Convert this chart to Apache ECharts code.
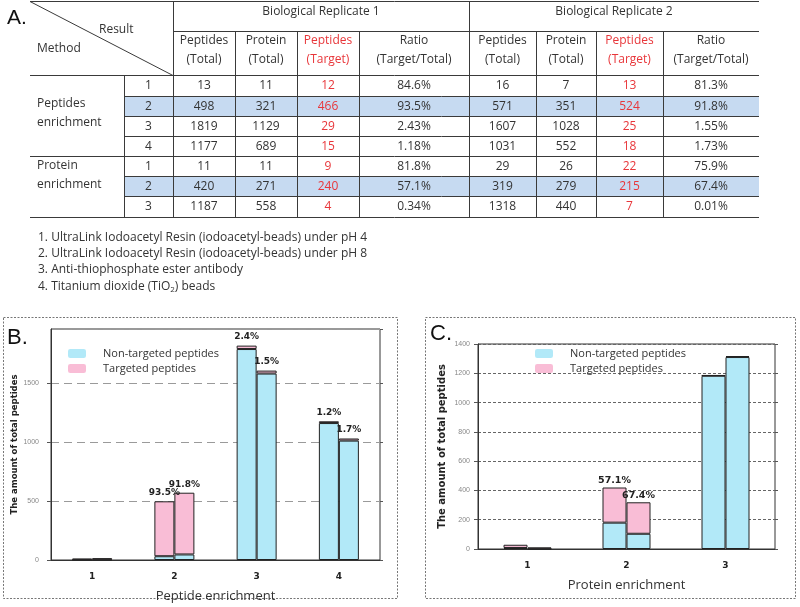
<!DOCTYPE html>
<html>
<head>
<meta charset="utf-8">
<script src="https://cdn.jsdelivr.net/npm/echarts@6/dist/echarts.min.js"></script>
<style>
html,body{margin:0;padding:0;background:#fff;}
#main{width:800px;height:607px;}
</style>
</head>
<body>
<div id="main"></div>
<script>
// ---------- Table data (panel A) ----------
const repHeaders = ['Biological Replicate 1', 'Biological Replicate 2'];
const colHeaders = [['Peptides', '(Total)'], ['Protein', '(Total)'], ['Peptides', '(Target)'], ['Ratio', '(Target/Total)']];
const methodNames = [['Peptides', 'enrichment'], ['Protein', 'enrichment']];
const rowNumbers = ['1', '2', '3', '4', '1', '2', '3'];
const rep1PepTotal = [13, 498, 1819, 1177, 11, 420, 1187];
const rep1ProtTotal = [11, 321, 1129, 689, 11, 271, 558];
const rep1Target = [12, 466, 29, 15, 9, 240, 4];
const rep1Ratio = ['84.6%', '93.5%', '2.43%', '1.18%', '81.8%', '57.1%', '0.34%'];
const rep2PepTotal = [16, 571, 1607, 1031, 29, 319, 1318];
const rep2ProtTotal = [7, 351, 1028, 552, 26, 279, 440];
const rep2Target = [13, 524, 25, 18, 22, 215, 7];
const rep2Ratio = ['81.3%', '91.8%', '1.55%', '1.73%', '75.9%', '67.4%', '0.01%'];
const highlightRows = [1, 5];
const footnotes = [
  '1. UltraLink Iodoacetyl Resin (iodoacetyl-beads) under pH 4',
  '2. UltraLink Iodoacetyl Resin (iodoacetyl-beads) under pH 8',
  '3. Anti-thiophosphate ester antibody',
  '4. Titanium dioxide (TiO{sub|2}) beads'
];

// ---------- Chart B data ----------
const bCats = ['1', '2', '3', '4'];
const bRep1Non = [1, 32, 1790, 1162];
const bRep1Tgt = [12, 466, 29, 15];
const bRep2Non = [3, 47, 1582, 1013];
const bRep2Tgt = [13, 524, 25, 18];
const bRep1Lbl = ['', '93.5%', '2.4%', '1.2%'];
const bRep2Lbl = ['', '91.8%', '1.5%', '1.7%'];

// ---------- Chart C data ----------
const cCats = ['1', '2', '3'];
const cRep1Non = [7, 180, 1183];
const cRep1Tgt = [22, 240, 4];
const cRep2Non = [2, 104, 1311];
const cRep2Tgt = [9, 215, 7];
const cRep1Lbl = ['', '57.1%', ''];
const cRep2Lbl = ['', '67.4%', ''];

const legendNames = ['Non-targeted peptides', 'Targeted peptides'];

const FONT = "'Open Sans', sans-serif";
const DJ = "'DejaVu Sans', sans-serif";
const BLUE = '#b2e9f8';
const PINK = '#f9bdd6';
const RED = '#e8363a';
const TXT = '#333';
const LINE = '#3a3a3a';

// ---------- Table graphic ----------
const colX = [173, 235, 297, 359, 469, 536, 596, 663, 759];
const rowY = [75, 96, 116, 136, 156, 176, 196, 217];
const g = [];
function line(x1, y1, x2, y2, w) {
  g.push({type: 'line', shape: {x1, y1, x2, y2}, style: {stroke: LINE, lineWidth: w || 1}, silent: true});
}
function text(t, x, y, opt) {
  opt = opt || {};
  g.push({type: 'text', x, y, silent: true, style: {
    text: t, fill: opt.fill || TXT, font: opt.font || ('12px ' + FONT),
    align: opt.align || 'center', verticalAlign: 'middle', rich: opt.rich
  }});
}
highlightRows.forEach(r => {
  g.push({type: 'rect', silent: true, shape: {x: 124, y: rowY[r], width: 759 - 124, height: rowY[r + 1] - rowY[r]}, style: {fill: '#c6daf1'}});
});
line(30, 1.5, 759, 1.5);
line(173, 31.5, 759, 31.5);
line(30, 75.5, 759, 75.5);
[96, 116, 136, 176, 196].forEach(y => line(124, y + 0.5, 759, y + 0.5));
line(30, 156.5, 759, 156.5);
line(30, 217.5, 759, 217.5);
line(173.5, 1, 173.5, 217.5);
line(469.5, 1, 469.5, 217.5);
line(124.5, 75, 124.5, 217.5);
[235, 297, 359, 536, 596, 663].forEach(x => line(x + 0.5, 31, x + 0.5, 217.5));
line(30, 1.5, 173, 75.5);
text('A.', 7, 18, {align: 'left', font: '21px ' + "'Liberation Sans', sans-serif", fill: '#111'});
text('Result', 99, 30, {align: 'left'});
text('Method', 37, 49, {align: 'left'});
text(repHeaders[0], (173 + 469) / 2, 12);
text(repHeaders[1], (469 + 759) / 2, 12);
for (let rep = 0; rep < 2; rep++) {
  for (let c = 0; c < 4; c++) {
    const cx = (colX[rep * 4 + c] + colX[rep * 4 + c + 1]) / 2;
    const col = c === 2 ? RED : TXT;
    text(colHeaders[c][0], cx, 41, {fill: col});
    text(colHeaders[c][1], cx, 60, {fill: col});
  }
}
text(methodNames[0][0], 37, 104, {align: 'left'});
text(methodNames[0][1], 37, 123, {align: 'left'});
text(methodNames[1][0], 37, 166, {align: 'left'});
text(methodNames[1][1], 37, 185, {align: 'left'});
const cols = [rep1PepTotal, rep1ProtTotal, rep1Target, rep1Ratio, rep2PepTotal, rep2ProtTotal, rep2Target, rep2Ratio];
for (let r = 0; r < rowNumbers.length; r++) {
  const cy = (rowY[r] + rowY[r + 1]) / 2 + 0.5;
  text(rowNumbers[r], (124 + 173) / 2, cy);
  cols.forEach((arr, ci) => {
    const cx = (colX[ci] + colX[ci + 1]) / 2;
    text(String(arr[r]), cx, cy, {fill: (ci % 4 === 2) ? RED : TXT});
  });
}
const fnY = [238, 254, 270, 287];
footnotes.forEach((f, i) => {
  text(f, 38, fnY[i], {align: 'left', rich: {sub: {font: '8px ' + FONT, fill: TXT, verticalAlign: 'bottom', padding: [6, 0, 0, 0]}}});
});
g.push({type: 'rect', silent: true, shape: {x: 3.5, y: 317.5, width: 394, height: 281}, style: {fill: 'none', stroke: '#777', lineWidth: 1, lineDash: [2, 1.5]}});
g.push({type: 'rect', silent: true, shape: {x: 425.5, y: 317.5, width: 370, height: 281}, style: {fill: 'none', stroke: '#777', lineWidth: 1, lineDash: [2, 1.5]}});
text('B.', 7, 338, {align: 'left', font: '22px ' + "'Liberation Sans', sans-serif", fill: '#111'});
text('C.', 430, 334, {align: 'left', font: '22px ' + "'Liberation Sans', sans-serif", fill: '#111'});

// ---------- Charts ----------
const barStyle = c => ({color: c, borderColor: '#222', borderWidth: 1});
const lblStyle = (arr, size, dist) => ({
  show: true, position: 'top', distance: dist,
  formatter: p => arr[p.dataIndex],
  fontFamily: DJ, fontWeight: 'bold', fontSize: size, color: '#222'
});
function xAx(idx, cats, name, gap) {
  return {
    gridIndex: idx, type: 'category', data: cats,
    axisLine: {lineStyle: {color: '#333'}}, axisTick: {show: false},
    axisLabel: {fontFamily: DJ, fontWeight: 'bold', fontSize: 9, color: '#222', margin: 12},
    name, nameLocation: 'middle', nameGap: gap,
    nameTextStyle: {fontFamily: FONT, fontSize: 13, color: '#333'}
  };
}
function yAx(idx, max, interval, dash, nameSize, nameGap, margin) {
  return {
    gridIndex: idx, type: 'value', min: 0, max, interval,
    axisLine: {show: true, lineStyle: {color: '#333'}},
    axisTick: {show: true, length: 4, lineStyle: {color: '#555'}},
    axisLabel: {fontFamily: "'Liberation Sans', sans-serif", fontSize: 7, color: '#888', margin,
      showMaxLabel: max % interval === 0, formatter: v => String(v)},
    splitLine: {show: true, lineStyle: {type: dash.type, color: dash.color, width: 1}},
    name: 'The amount of total peptides', nameLocation: 'middle', nameGap,
    nameTextStyle: {fontFamily: DJ, fontWeight: 'bold', fontSize: nameSize, color: '#222'}
  };
}
function yRight(idx, max, interval) {
  return {
    gridIndex: idx, type: 'value', min: 0, max, interval, position: 'right',
    axisLine: {show: false}, axisTick: {show: true, length: 3, lineStyle: {color: '#555'}},
    axisLabel: {show: false}, splitLine: {show: false}
  };
}
function legend(left) {
  return {
    left, top: 341, orient: 'vertical', itemWidth: 18, itemHeight: 9, itemGap: 0,
    data: legendNames, selectedMode: false,
    itemStyle: {borderWidth: 0},
    textStyle: {fontFamily: FONT, fontSize: 11, color: '#333', padding: [0, 0, 0, 12], lineHeight: 15}
  };
}

const option = {
  animation: false,
  backgroundColor: '#fff',
  graphic: {elements: g},
  legend: [legend(63), legend(530)],
  grid: [
    {left: 51, right: 420, top: 329, bottom: 47, show: true, borderColor: '#333', borderWidth: 1},
    {left: 478, right: 25, top: 344, bottom: 58, show: true, borderColor: '#333', borderWidth: 1}
  ],
  xAxis: [xAx(0, bCats, 'Peptide enrichment', 30), xAx(1, cCats, 'Protein enrichment', 30)],
  yAxis: [
    yAx(0, 1960, 500, {type: [8, 5], color: '#9a9a9a'}, 8.5, 30, 12),
    yAx(1, 1400, 200, {type: [3, 2], color: '#666'}, 10, 31, 8),
    yRight(0, 1960, 500),
    yRight(1, 1400, 200)
  ],
  series: [
    {type: 'bar', name: legendNames[0], xAxisIndex: 0, yAxisIndex: 0, stack: 'b1', data: bRep1Non, barWidth: 20, barGap: '0%', itemStyle: barStyle(BLUE)},
    {type: 'bar', name: legendNames[1], xAxisIndex: 0, yAxisIndex: 0, stack: 'b1', data: bRep1Tgt, barWidth: 20, barGap: '0%', itemStyle: barStyle(PINK), label: lblStyle(bRep1Lbl, 9, 4)},
    {type: 'bar', name: legendNames[0], xAxisIndex: 0, yAxisIndex: 0, stack: 'b2', data: bRep2Non, barWidth: 20, barGap: '0%', itemStyle: barStyle(BLUE)},
    {type: 'bar', name: legendNames[1], xAxisIndex: 0, yAxisIndex: 0, stack: 'b2', data: bRep2Tgt, barWidth: 20, barGap: '0%', itemStyle: barStyle(PINK), label: lblStyle(bRep2Lbl, 9, 4)},
    {type: 'bar', name: legendNames[0], xAxisIndex: 1, yAxisIndex: 1, stack: 'c1', data: cRep1Non, barWidth: 24, barGap: '0%', itemStyle: barStyle(BLUE)},
    {type: 'bar', name: legendNames[1], xAxisIndex: 1, yAxisIndex: 1, stack: 'c1', data: cRep1Tgt, barWidth: 24, barGap: '0%', itemStyle: barStyle(PINK), label: lblStyle(cRep1Lbl, 9.5, 2)},
    {type: 'bar', name: legendNames[0], xAxisIndex: 1, yAxisIndex: 1, stack: 'c2', data: cRep2Non, barWidth: 24, barGap: '0%', itemStyle: barStyle(BLUE)},
    {type: 'bar', name: legendNames[1], xAxisIndex: 1, yAxisIndex: 1, stack: 'c2', data: cRep2Tgt, barWidth: 24, barGap: '0%', itemStyle: barStyle(PINK), label: lblStyle(cRep2Lbl, 9.5, 2)}
  ]
};
const chart = echarts.init(document.getElementById('main'), null, {renderer: 'canvas'});
chart.setOption(option);
</script>
</body>
</html>
